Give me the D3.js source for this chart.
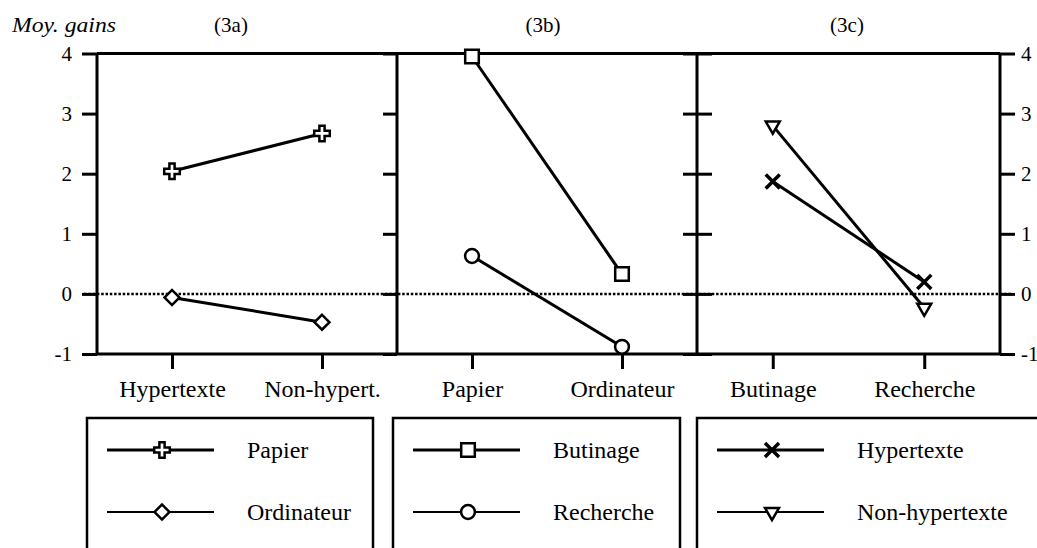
<!DOCTYPE html>
<html>
<head>
<meta charset="utf-8">
<script src="https://cdn.jsdelivr.net/npm/d3@7"></script>
<style>
  body { margin: 0; background: #fff; }
  svg { display: block; font-family: "Liberation Serif", "Times New Roman", serif; }
</style>
</head>
<body>
<main></main>
<script>
// values
const yTicks = [-1, 0, 1, 2, 3, 4];
const yTickLabels = ["-1", "0", "1", "2", "3", "4"];

const cats3a = ["Hypertexte", "Non-hypert."];
const papier = [2.04, 2.67];
const ordinateur = [-0.06, -0.47];

const cats3b = ["Papier", "Ordinateur"];
const butinage = [3.95, 0.33];
const recherche = [0.63, -0.88];

const cats3c = ["Butinage", "Recherche"];
const hypertexte = [1.87, 0.2];
const nonHypertexte = [2.8, -0.23];

const width = 1037;
const height = 548;
const edges = [97, 397, 697, 1000];   // panel borders
const plotTop = 53.5, plotBottom = 354;

const panels = [
  { title: "(3a)", titleX: 231, cats: cats3a, series: [
    { name: "Papier", values: papier, symbol: "cross" },
    { name: "Ordinateur", values: ordinateur, symbol: "diamond" }] },
  { title: "(3b)", titleX: 543, cats: cats3b, series: [
    { name: "Butinage", values: butinage, symbol: "square" },
    { name: "Recherche", values: recherche, symbol: "circle" }] },
  { title: "(3c)", titleX: 847, cats: cats3c, series: [
    { name: "Hypertexte", values: hypertexte, symbol: "times" },
    { name: "Non-hypertexte", values: nonHypertexte, symbol: "triangle" }] }
];
const legendBoxes = [87, 393, 697];

const svg = d3.select("main")
  .append("svg")
  .attr("width", width)
  .attr("height", height);

const y = d3.scaleLinear().domain([-1, 4]).range([plotBottom, plotTop]);

const drawMarker = (g, type) => {
  const sym = {
    cross: [d3.symbolCross, 135, 0],
    diamond: [d3.symbolSquare, 112, 45],
    square: [d3.symbolSquare, 185, 0],
    circle: [d3.symbolCircle, 150, 0],
    times: [d3.symbolTimes, 130, 0],
    triangle: [d3.symbolTriangle, 85, 180]
  }[type];
  g.append("path")
    .attr("d", d3.symbol(sym[0], sym[1])())
    .attr("transform", sym[2] ? "rotate(" + sym[2] + ")" : null)
    .attr("fill", type === "times" ? "none" : "#fff")
    .attr("stroke", "#000")
    .attr("stroke-width", type === "times" ? 3.5 : 2.5);
};

const styleAxis = (g, fontSize) => {
  g.select(".domain").remove();
  g.selectAll(".tick line").attr("stroke", "#000").attr("stroke-width", 3);
  g.selectAll(".tick text")
    .attr("fill", "#000")
    .style("font-family", "'Liberation Serif', 'Times New Roman', serif")
    .style("font-size", fontSize + "px");
};

// zero reference line
svg.append("line")
  .attr("x1", 84).attr("x2", 1013)
  .attr("y1", y(0)).attr("y2", y(0))
  .attr("stroke", "#000")
  .attr("stroke-width", 2.5)
  .attr("stroke-dasharray", "2.5,1.8");

// y axes
const fmt = (d) => yTickLabels[yTicks.indexOf(d)];
svg.append("g")
  .attr("transform", "translate(" + edges[0] + ",0)")
  .call(d3.axisLeft(y).tickValues(yTicks).tickSize(15).tickPadding(10).tickFormat(fmt))
  .call(styleAxis, 21);
svg.append("g")
  .attr("transform", "translate(" + edges[1] + ",0)")
  .call(d3.axisLeft(y).tickValues(yTicks).tickSize(14).tickFormat(""))
  .call(styleAxis, 21);
svg.append("g")
  .attr("transform", "translate(" + edges[2] + ",0)")
  .call(d3.axisLeft(y).tickValues(yTicks).tickSize(14).tickFormat(""))
  .call(styleAxis, 21);
svg.append("g")
  .attr("transform", "translate(" + edges[2] + ",0)")
  .call(d3.axisRight(y).tickValues(yTicks).tickSize(15).tickFormat(""))
  .call(styleAxis, 21);
svg.append("g")
  .attr("transform", "translate(" + edges[3] + ",0)")
  .call(d3.axisRight(y).tickValues(yTicks).tickSize(15).tickPadding(6).tickFormat(fmt))
  .call(styleAxis, 21);

// frame
svg.append("g")
  .selectAll("line")
  .data(edges)
  .enter()
  .append("line")
  .attr("x1", (d) => d).attr("x2", (d) => d)
  .attr("y1", plotTop).attr("y2", plotBottom)
  .attr("stroke", "#000")
  .attr("stroke-width", 3);
[plotTop, plotBottom].forEach((yy) => {
  svg.append("line")
    .attr("x1", edges[0]).attr("x2", edges[3])
    .attr("y1", yy).attr("y2", yy)
    .attr("stroke", "#000")
    .attr("stroke-width", 3);
});

// top labels
svg.append("text")
  .attr("x", 12).attr("y", 32)
  .style("font-size", "21px")
  .style("font-style", "italic")
  .attr("textLength", 104)
  .attr("lengthAdjust", "spacingAndGlyphs")
  .text("Moy. gains");

panels.forEach((p, i) => {
  const x = d3.scalePoint().domain(p.cats).range([edges[i], edges[i + 1]]).padding(0.5);

  svg.append("text")
    .attr("x", p.titleX).attr("y", 32)
    .attr("text-anchor", "middle")
    .style("font-size", "21px")
    .text(p.title);

  svg.append("g")
    .attr("transform", "translate(0," + plotBottom + ")")
    .call(d3.axisBottom(x).tickSize(15).tickPadding(11))
    .call(styleAxis, 24);

  const line = d3.line()
    .x((d, k) => x(p.cats[k]))
    .y((d) => y(d));

  p.series.forEach((s) => {
    svg.append("path")
      .datum(s.values)
      .attr("d", line)
      .attr("fill", "none")
      .attr("stroke", "#000")
      .attr("stroke-width", 3);
  });
  p.series.forEach((s) => {
    s.values.forEach((v, k) => {
      const g = svg.append("g")
        .attr("transform", "translate(" + x(p.cats[k]) + "," + y(v) + ")");
      drawMarker(g, s.symbol);
    });
  });

  // legend box
  const lx = legendBoxes[i];
  const lg = svg.append("g").attr("transform", "translate(" + lx + ",418)");
  lg.append("rect")
    .attr("x", 0).attr("y", 0)
    .attr("width", i === 2 ? 400 : (i === 0 ? 286 : 287))
    .attr("height", 200)
    .attr("fill", "none")
    .attr("stroke", "#000")
    .attr("stroke-width", 2.5);

  const item = lg.selectAll(".legend-item")
    .data(p.series)
    .enter()
    .append("g")
    .attr("class", "legend-item")
    .attr("transform", (d, k) => "translate(0," + (32 + k * 62) + ")");

  item.append("line")
    .attr("x1", 20).attr("x2", 127)
    .attr("stroke", "#000")
    .attr("stroke-width", (d, k) => k === 0 ? 3 : 2.2);
  item.each(function (d) {
    const g = d3.select(this).append("g").attr("transform", "translate(75,0)");
    drawMarker(g, d.symbol);
  });
  item.append("text")
    .attr("x", 160)
    .attr("dy", "0.35em")
    .style("font-size", "24px")
    .text((d) => d.name);
});
</script>
</body>
</html>
